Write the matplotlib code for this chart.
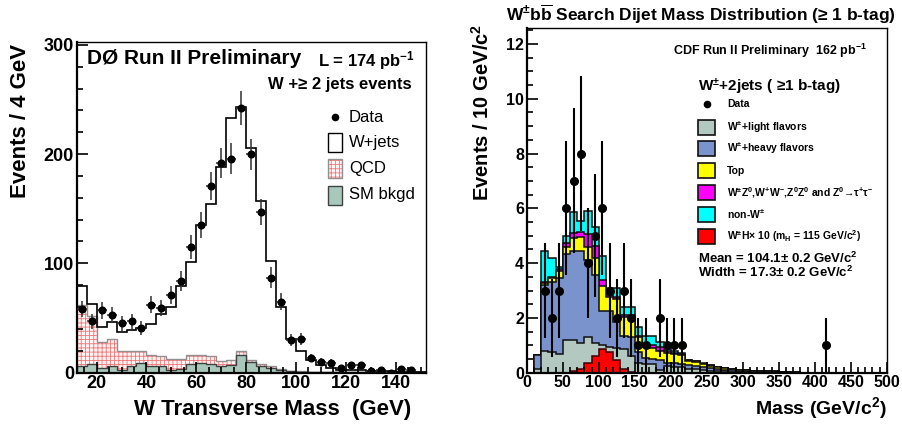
import numpy as np
import matplotlib
matplotlib.use('Agg')
import matplotlib.pyplot as plt
from matplotlib.patches import Rectangle
from matplotlib.ticker import MultipleLocator

plt.rcParams['font.family'] = ['Liberation Sans', 'DejaVu Sans']
plt.rcParams['mathtext.fontset'] = 'custom'
plt.rcParams['mathtext.rm'] = 'Liberation Sans:bold'
plt.rcParams['mathtext.it'] = 'Liberation Sans:bold'
plt.rcParams['mathtext.bf'] = 'Liberation Sans:bold'
plt.rcParams['mathtext.default'] = 'rm'
plt.rcParams['hatch.linewidth'] = 0.6

W_PX, H_PX = 902, 430

# ---- D0: W transverse mass, 4 GeV bins 12..152
d0_edges = np.arange(12, 153, 4)
d0_centers = np.arange(14, 147, 4)
d0_data = [58, 47, 57, 53, 45, 47, 41, 62, 59, 71,
           84, 115, 135, 171, 192, 196, 242, 200, 147, 87,
           65, 30, 31, 13, 10, 9, 4, 7, 7, 1,
           2, 0, 3, 2]
d0_smbkgd = [6.4, 8, 4.3, 5.5, 2.4, 5.5, 8.6, 6.4, 5.5, 2.4,
             3.4, 8, 8.6, 8, 6.4, 7.3, 15.6, 9.5, 6, 4.5,
             2.4, 1.2, 0.8, 0.5, 0.3, 0.2, 0.2, 0.2, 0.2, 0.1,
             0.1, 0.1, 0.05, 0.05, 0.05]
d0_qcd = [55.6, 44, 23.7, 25.5, 17.6, 14, 10.9, 9.2, 9.2, 10.1,
          9.1, 7.6, 7, 6.7, 4, 4.3, 4.4, 1.5, 2, 1.5,
          0.6, 0.3, 0.2, 0.1, 0.2, 0.2, 0.1, 0.1, 0.1, 0.1,
          0.1, 0.1, 0.05, 0.05, 0.05]
d0_wjets = [17, 11, 14, 15, 17, 19.5, 21.5, 28.4, 39.3, 47.5,
            66.5, 85.4, 119.4, 140, 178, 221.4, 223, 195, 149, 96,
            57, 29.5, 18.6, 11, 6.5, 4.1, 2.2, 2.2, 1.7, 1.3,
            1.0, 0.8, 0.7, 0.5, 0.4]

# ---- CDF: dijet mass, 10 GeV bins 0..500
cdf_edges = np.arange(0, 501, 10)
cdf_centers = np.arange(5, 500, 10)
cdf_data = [0, 0, 3, 2, 3, 6, 7, 8, 4, 5,
            6, 3, 2, 3, 2, 1, 1, 0, 2, 1,
            1, 1, 0, 0, 0, 0, 0, 0, 0, 0,
            0, 0, 0, 0, 0, 0, 0, 0, 0, 0,
            0, 1, 0, 0, 0, 0, 0, 0, 0, 0]
cdf_light = [0, 0.15, 0.8, 0.75, 0.7, 1.2, 1.2, 1.1, 1.3, 1.07,
             1.0, 0.95, 0.9, 0.85, 0.6, 0.35, 0.3, 0.3, 0.1, 0.25,
             0.2, 0.2, 0.15, 0.12, 0.1, 0.08, 0.06, 0.05, 0.04, 0.03,
             0.03, 0.02, 0.02, 0.02, 0.01, 0.01, 0.01, 0.01, 0, 0,
             0, 0, 0, 0, 0, 0, 0, 0, 0, 0]
cdf_heavy = [0, 0.5, 2.4, 2.55, 2.75, 3.15, 3.25, 3.35, 2.8, 2.5,
             1.25, 1.3, 0.95, 0.5, 0.7, 0.4, 0.25, 0.2, 0.35, 0.1,
             0.15, 0.1, 0.13, 0.13, 0.1, 0.09, 0.07, 0.06, 0.05, 0.04,
             0.03, 0.03, 0.02, 0.02, 0.02, 0.01, 0.01, 0.01, 0, 0,
             0, 0, 0, 0, 0, 0, 0, 0, 0, 0]
cdf_top = [0, 0, 0.07, 0.15, 0.27, 0.25, 0.45, 0.5, 0.5, 0.6,
           0.9, 0.5, 0.85, 0.7, 0.7, 0.55, 0.4, 0.4, 0.33, 0.38,
           0.33, 0.35, 0.15, 0.15, 0.12, 0.09, 0.07, 0.05, 0.04, 0.03,
           0.03, 0.02, 0.02, 0.02, 0.02, 0.01, 0.01, 0.01, 0, 0,
           0, 0, 0, 0, 0, 0, 0, 0, 0, 0]
cdf_diboson = [0, 0, 0.05, 0.05, 0.06, 0.15, 0.2, 0.2, 0.45, 0.45,
               0.25, 0.1, 0.08, 0.07, 0.1, 0.05, 0.1, 0.1, 0.17, 0.05,
               0.04, 0.03, 0.02, 0.01, 0.01, 0.01, 0.01, 0.01, 0, 0,
               0, 0, 0, 0, 0, 0, 0, 0, 0, 0,
               0, 0, 0, 0, 0, 0, 0, 0, 0, 0]
cdf_nonw = [0, 0, 1.13, 0.67, 0.07, 0.25, 0.75, 0.4, 0.85, 0.7,
            0.85, 0.25, 0.32, 0.28, 0.3, 0.33, 0.28, 0.33, 0.18, 0.07,
            0.06, 0.04, 0.02, 0.01, 0.01, 0.01, 0.01, 0, 0.01, 0.01,
            0, 0, 0, 0, 0, 0, 0, 0, 0, 0,
            0, 0, 0, 0, 0, 0, 0, 0, 0, 0]
cdf_wh10 = [0, 0, 0, 0, 0, 0, 0.05, 0.12, 0.37, 0.6,
            0.86, 0.75, 0.45, 0.12, 0.02, 0, 0, 0, 0, 0,
            0, 0, 0, 0, 0, 0, 0, 0, 0, 0,
            0, 0, 0, 0, 0, 0, 0, 0, 0, 0,
            0, 0, 0, 0, 0, 0, 0, 0, 0, 0]

cdf_labels = [r'W$^{\pm}$+light flavors', r'W$^{\pm}$+heavy flavors', 'Top',
              r'W$^{\pm}$Z$^{0}$,W$^{+}$W$^{-}$,Z$^{0}$Z$^{0}$ and Z$^{0}$→τ$^{+}$τ$^{-}$',
              r'non-W$^{\pm}$', r'W$^{\pm}$H× 10 (m$_{H}$ = 115 GeV/c$^{2}$)']
cdf_colors = ['#b2c8c0', '#7b93cd', '#ffff00', '#ff00ff', '#00ffff', '#ff0000']
SM_COLOR = '#a9c8bc'
QCD_HATCH = '#f07878'
QCD_FACE = '#fff2f2'


def frac(x0, y0, x1, y1):
    return [x0 / W_PX, 1 - y1 / H_PX, (x1 - x0) / W_PX, (y1 - y0) / H_PX]


def style_axes(ax, size):
    ax.tick_params(which='both', direction='in', top=False, right=False,
                   labelsize=size, width=1.2, pad=2)
    ax.tick_params(which='major', length=8)
    ax.tick_params(which='minor', length=4)
    for lab in ax.get_xticklabels() + ax.get_yticklabels():
        lab.set_fontweight('bold')
    for side in ['left', 'bottom']:
        ax.spines[side].set_linewidth(1.6)
    for side in ['top', 'right']:
        ax.spines[side].set_linewidth(1.0)


fig = plt.figure(figsize=(W_PX / 100, H_PX / 100), dpi=100)

# ================= left panel =================
ax1 = fig.add_axes(frac(76.7, 41.7, 425.5, 372.5))
sm = np.array(d0_smbkgd)
qtop = sm + np.array(d0_qcd)
total = qtop + np.array(d0_wjets)

ax1.stairs(total, d0_edges, fill=True, facecolor='white', edgecolor='none')
ax1.stairs(qtop, d0_edges, baseline=sm, fill=True, facecolor=QCD_FACE,
           edgecolor=QCD_HATCH, hatch='++++', linewidth=0)
ax1.stairs(qtop, d0_edges, baseline=None, color='#909090', linewidth=1.0)
ax1.stairs(sm, d0_edges, fill=True, facecolor=SM_COLOR, edgecolor='#404040', linewidth=1.0)
ax1.stairs(total, d0_edges, baseline=None, color='black', linewidth=1.2)
ax1.errorbar(d0_centers, d0_data, yerr=np.sqrt(d0_data), xerr=2, fmt='o',
             color='black', ecolor='#303030', elinewidth=1.1, markersize=4.8,
             capsize=0, zorder=5)
ax1.set_xlim(12, 152)
ax1.set_ylim(0, 303)
ax1.xaxis.set_major_locator(MultipleLocator(20))
ax1.xaxis.set_minor_locator(MultipleLocator(5))
ax1.yaxis.set_major_locator(MultipleLocator(100))
ax1.yaxis.set_minor_locator(MultipleLocator(20))
style_axes(ax1, 13)
ax1.tick_params(axis='x', pad=1.5)

# ================= right panel =================
ax2 = fig.add_axes(frac(526.7, 28.3, 886.7, 372.7))
stack = np.cumsum(np.vstack([cdf_light, cdf_heavy, cdf_top, cdf_diboson, cdf_nonw]), axis=0)
for i in range(stack.shape[0] - 1, -1, -1):
    ax2.stairs(stack[i], cdf_edges, fill=True, facecolor=cdf_colors[i],
               edgecolor='#101010', linewidth=1.1)
ax2.stairs(cdf_wh10, cdf_edges, fill=True, facecolor=cdf_colors[5],
           edgecolor='#400000', linewidth=1.1)
cdf_data_arr = np.array(cdf_data, dtype=float)
mask = cdf_data_arr > 0
ax2.errorbar(cdf_centers[mask], cdf_data_arr[mask], yerr=np.sqrt(cdf_data_arr[mask]),
             fmt='o', color='black', elinewidth=1.5, markersize=5.5, capsize=0, zorder=5)
ax2.set_xlim(0, 500)
ax2.set_ylim(0, 12.57)
ax2.xaxis.set_major_locator(MultipleLocator(50))
ax2.xaxis.set_minor_locator(MultipleLocator(10))
ax2.yaxis.set_major_locator(MultipleLocator(2))
ax2.yaxis.set_minor_locator(MultipleLocator(0.5))
style_axes(ax2, 11.5)

# ================= overlay for texts and legends (pixel coords) =================
ov = fig.add_axes([0, 0, 1, 1])
ov.set_xlim(0, W_PX)
ov.set_ylim(H_PX, 0)
ov.axis('off')

# left texts
ov.text(87, 59, 'DØ Run II Preliminary', fontsize=15, fontweight='bold', va='center')
ov.text(318, 61, r'L = 174 pb$^{-1}$', fontsize=12, fontweight='bold', va='center')
ov.text(412, 84, 'W +≥ 2 jets events', fontsize=12, fontweight='bold', va='center', ha='right')
ov.text(21, 121, 'Events / 4 GeV', fontsize=16, fontweight='bold', rotation=90,
        ha='center', va='center')
ov.text(273, 410, 'W Transverse Mass  (GeV)', fontsize=16, fontweight='bold',
        ha='center', va='center')

# left legend
ov.plot([334.5], [117], 'o', color='black', markersize=4.5)
ov.add_patch(Rectangle((328, 133), 14, 19, facecolor='white', edgecolor='black', lw=1.0))
ov.add_patch(Rectangle((328, 159), 14, 19, facecolor=QCD_FACE, edgecolor=QCD_HATCH,
                       hatch='++++', lw=0))
ov.add_patch(Rectangle((328, 159), 14, 19, facecolor='none', edgecolor='#909090', lw=1.0))
ov.add_patch(Rectangle((328, 186), 14, 19, facecolor=SM_COLOR, edgecolor='#404040', lw=1.0))
for lab, yy in zip(['Data', 'W+jets', 'QCD', 'SM bkgd'], [117, 143, 169, 195]):
    ov.text(349, yy, lab, fontsize=12, va='center')

# right texts
ov.text(701, 14, r'W$^{\pm}$b$\overline{\mathrm{b}}$ Search Dijet Mass Distribution (≥ 1 b-tag)',
        fontsize=12.5, fontweight='bold', ha='center', va='center')
ov.text(673, 51, r'CDF Run II Preliminary  162 pb$^{-1}$', fontsize=9, fontweight='bold',
        va='center')
ov.text(482, 112, r'Events / 10 GeV/c$^{2}$', fontsize=14.5, fontweight='bold',
        rotation=90, ha='center', va='center')
ov.text(821, 408, r'Mass (GeV/c$^{2}$)', fontsize=14, fontweight='bold',
        ha='center', va='center')

# right legend
ov.text(698, 87, r'W$^{\pm}$+2jets ( ≥1 b-tag)', fontsize=11, fontweight='bold', va='center')
ov.plot([706.5], [104], 'o', color='black', markersize=4.5)
ov.text(727, 104, 'Data', fontsize=7.5, fontweight='bold', va='center')
for i, lab in enumerate(cdf_labels):
    yy = 127 + i * 21.8
    ov.add_patch(Rectangle((698, yy - 7.5), 17, 15, facecolor=cdf_colors[i],
                           edgecolor='#101010', lw=1.2))
    ov.text(727, yy, lab, fontsize=7.5, fontweight='bold', va='center')
ov.text(698, 258, r'Mean = 104.1± 0.2 GeV/c$^{2}$', fontsize=9.5, fontweight='bold', va='center')
ov.text(698, 272, r'Width = 17.3± 0.2 GeV/c$^{2}$', fontsize=9.5, fontweight='bold', va='center')

fig.savefig('out.png', dpi=100)
